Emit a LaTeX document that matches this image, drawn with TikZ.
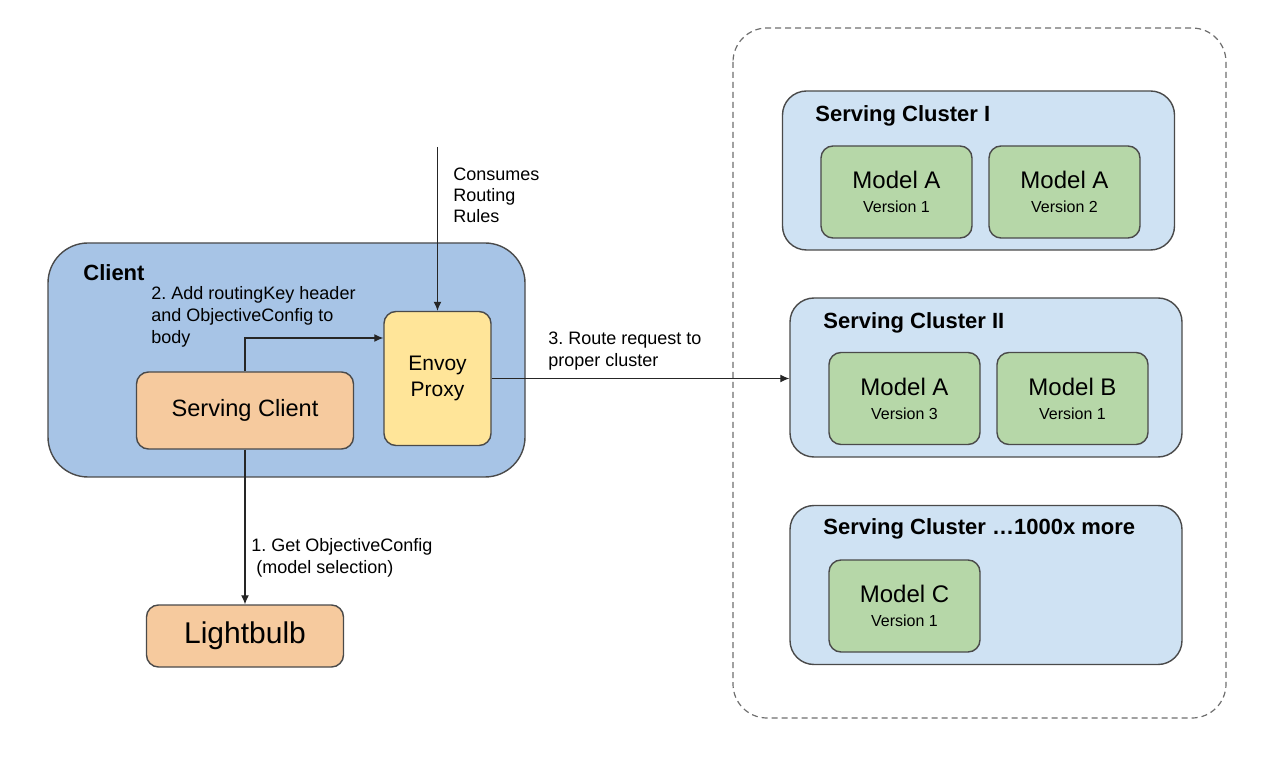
\documentclass[tikz,border=0pt]{standalone}
\usepackage{fontspec}
\setmainfont{Liberation Sans}
\frenchspacing
\usetikzlibrary{arrows.meta}
\definecolor{clientblue}{HTML}{A7C4E6}
\definecolor{clusterblue}{HTML}{CFE2F3}
\definecolor{boxorange}{HTML}{F6CA9E}
\definecolor{boxyellow}{HTML}{FFE599}
\definecolor{modelgreen}{HTML}{B6D7A8}
\definecolor{edge}{HTML}{4A4A4A}
\newcommand{\mdl}[2]{{\fontsize{12}{12}\selectfont #1}\\[0pt]{\fontsize{8}{9}\selectfont #2}}
\begin{document}
\begin{tikzpicture}[x=0.5pt, y=-0.5pt,
  box/.style={draw=edge, line width=0.7pt, rounded corners=6pt, align=center, inner sep=0pt},
  model/.style={box, fill=modelgreen, minimum width=75.5pt, minimum height=46pt},
  cluster/.style={draw=edge, line width=0.7pt, rounded corners=12pt, fill=clusterblue, minimum width=196pt, minimum height=79.5pt},
  lbl/.style={anchor=north west, align=left, inner sep=0pt, font=\fontsize{9}{11}\selectfont},
  ttl/.style={anchor=north west, inner sep=0pt, font=\fontsize{11}{13}\selectfont\bfseries},
  arr/.style={-{Latex[length=4.5pt,width=4pt]}, line width=0.6pt, black!85}]
\useasboundingbox (0,0) rectangle (1280,764);
% Serving clusters (dashed pool)
\draw[edge!80, line width=0.6pt, dash pattern=on 3pt off 2pt, rounded corners=17pt] (733,28) rectangle (1226,718);
\node[cluster] (c1) at (978.5,170.5) {};
\node[cluster] (c2) at (986,377.5) {};
\node[cluster] (c3) at (986,585) {};
\node[ttl] at (815,105) {Serving Cluster I};
\node[ttl] at (823,312) {Serving Cluster II};
\node[ttl] at (823,518) {Serving Cluster \dots1000x more};
\node[model] (ma1) at (896.5,192) {\mdl{Model A}{Version 1}};
\node[model] (ma2) at (1064.5,192) {\mdl{Model A}{Version 2}};
\node[model] (ma3) at (904.5,398.5) {\mdl{Model A}{Version 3}};
\node[model] (mb1) at (1072.5,398.5) {\mdl{Model B}{Version 1}};
\node[model] (mc1) at (904.5,606) {\mdl{Model C}{Version 1}};
% Client
\node[draw=edge, line width=0.7pt, rounded corners=20pt, fill=clientblue, minimum width=238.5pt, minimum height=117pt] (client) at (286.5,360) {};
\node[ttl] at (83,264) {Client};
\node[box, fill=boxorange, minimum width=108.5pt, minimum height=38.5pt, font=\fontsize{11.8}{14}\selectfont] (sc) at (245,410.5) {Serving Client};
\node[box, fill=boxyellow, minimum width=53.5pt, minimum height=67pt, font=\fontsize{10.5}{13}\selectfont] (envoy) at (437.5,378.5) {Envoy\\Proxy};
\node[box, fill=boxorange, minimum width=98.5pt, minimum height=31pt, font=\fontsize{15}{18}\selectfont] (bulb) at (245,636) {Lightbulb};
% Verbindungen
\coordinate (rules) at (437.5,147);
\draw[arr] (rules) -- (envoy.north);
\draw[arr] (sc.north) |- ([yshift=20.25pt]envoy.west);
\draw[arr] (envoy.east) -- (envoy.east -| c2.west);
\draw[arr] (sc.south) -- (bulb.north);
% Beschriftungen
\node[lbl, font=\fontsize{9}{10.5}\selectfont] at (453,168) {Consumes\\Routing\\Rules};
\node[lbl] at (151,286) {2. Add routingKey header\\and ObjectiveConfig to\\body};
\node[lbl] at (548,332) {3. Route request to\\proper cluster};
\node[lbl] at (251,538) {1. Get ObjectiveConfig\\\ (model selection)};
\end{tikzpicture}
\end{document}
